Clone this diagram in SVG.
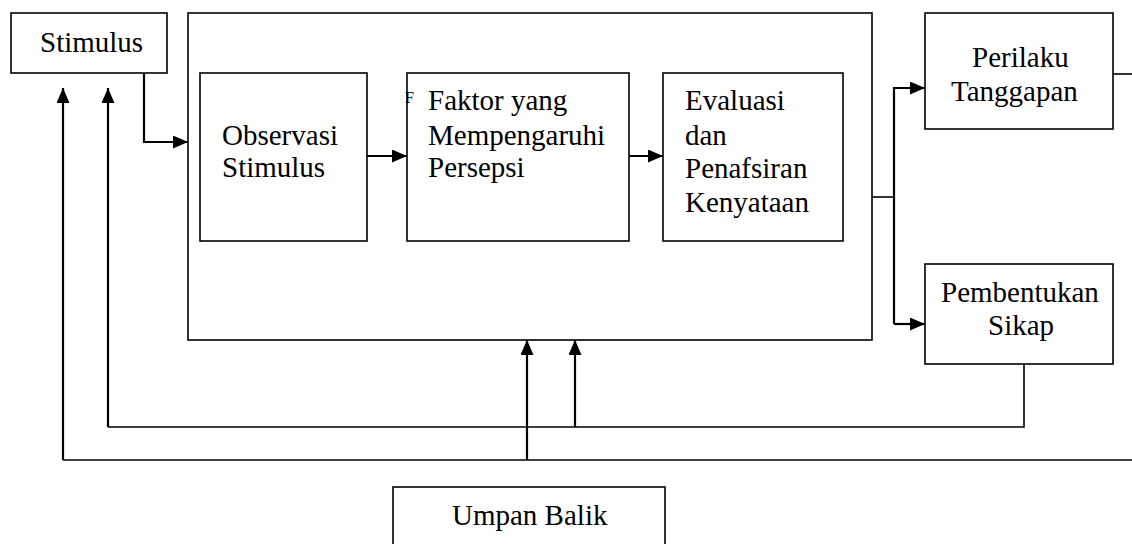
<svg xmlns="http://www.w3.org/2000/svg" width="1132" height="544" viewBox="0 0 1132 544">
<defs>
<style>
.box{fill:none;stroke:#000;stroke-width:1.6}
.lbl{font-family:"Liberation Serif","Times New Roman",serif;font-size:29px;fill:#000}
.small{font-family:"Liberation Serif","Times New Roman",serif;font-size:16px;fill:#000}
.ln{fill:none;stroke:#000;stroke-width:1.6}
.ar{fill:none;stroke:#000;stroke-width:2.2}
</style>
<marker id="ah" viewBox="0 0 15 13" refX="15" refY="6.5" markerWidth="15" markerHeight="13" markerUnits="userSpaceOnUse" orient="auto">
<path d="M0,0 L15,6.5 L0,13 z" fill="#000"/>
</marker>
</defs>
<rect width="1132" height="544" fill="#fff"/>

<g id="stimulus">
<rect class="box" x="11" y="13" width="156" height="60"/>
<text class="lbl" x="40" y="52">Stimulus</text>
</g>

<g id="persepsi">
<rect class="box" x="188" y="13" width="684" height="327"/>
</g>

<g id="observasi">
<rect class="box" x="200" y="73" width="167" height="168"/>
<text class="lbl" x="222" y="145">Observasi</text>
<text class="lbl" x="222" y="177">Stimulus</text>
</g>

<g id="faktor">
<rect class="box" x="407" y="73" width="222" height="168"/>
<text class="small" x="405" y="103">F</text>
<text class="lbl" x="428" y="110">Faktor yang</text>
<text class="lbl" x="428" y="145">Mempengaruhi</text>
<text class="lbl" x="428" y="177">Persepsi</text>
</g>

<g id="evaluasi">
<rect class="box" x="663" y="73" width="180" height="168"/>
<text class="lbl" x="685" y="110">Evaluasi</text>
<text class="lbl" x="685" y="145">dan</text>
<text class="lbl" x="685" y="178">Penafsiran</text>
<text class="lbl" x="685" y="212">Kenyataan</text>
</g>

<g id="perilaku">
<rect class="box" x="925" y="13" width="188" height="116"/>
<text class="lbl" x="972" y="67">Perilaku</text>
<text class="lbl" x="951" y="101">Tanggapan</text>
</g>

<g id="pembentukan">
<rect class="box" x="925" y="264" width="188" height="100"/>
<text class="lbl" x="941" y="302">Pembentukan</text>
<text class="lbl" x="988" y="335">Sikap</text>
</g>

<g id="umpan-balik">
<rect class="box" x="393" y="487" width="272" height="70"/>
<text class="lbl" x="452" y="525">Umpan Balik</text>
</g>

<g id="connectors">
<path class="ar" d="M144,73 V142 H188" marker-end="url(#ah)"/>
<path class="ar" d="M367,156 H407" marker-end="url(#ah)"/>
<path class="ar" d="M629,156 H663" marker-end="url(#ah)"/>
<path class="ln" d="M872,197 H894"/>
<path class="ar" d="M894,324 V88 H925" marker-end="url(#ah)"/>
<path class="ar" d="M894,324 H925" marker-end="url(#ah)"/>
<path class="ln" d="M1113,74 H1132"/>
<path class="ln" d="M1024,364 V427 H108"/>
<path class="ar" d="M108,427 V88" marker-end="url(#ah)"/>
<path class="ar" d="M575,427 V340" marker-end="url(#ah)"/>
<path class="ln" d="M1132,460 H63"/>
<path class="ar" d="M63,460 V88" marker-end="url(#ah)"/>
<path class="ar" d="M527,460 V340" marker-end="url(#ah)"/>
</g>
</svg>
